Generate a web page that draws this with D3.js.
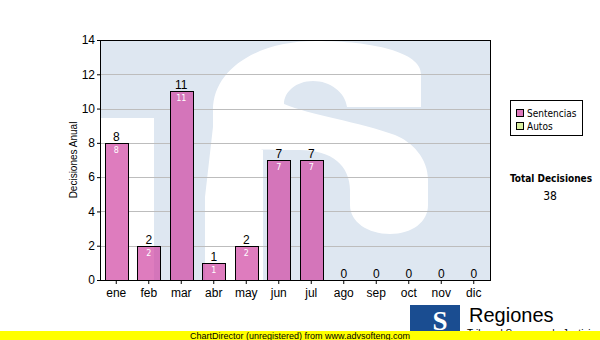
<!DOCTYPE html>
<html>
<head>
<meta charset="utf-8">
<script src="https://cdn.jsdelivr.net/npm/d3@7/dist/d3.min.js"></script>
<style>
  body { margin: 0; background: #fff; }
  svg { display: block; }
</style>
</head>
<body>
<div id="chart"></div>
<script>
// data
const months = ['ene', 'feb', 'mar', 'abr', 'may', 'jun', 'jul', 'ago', 'sep', 'oct', 'nov', 'dic'];
const sentencias = [8, 2, 11, 1, 2, 7, 7, 0, 0, 0, 0, 0];
const yTicks = [0, 2, 4, 6, 8, 10, 12, 14];
const legendLabels = ['Sentencias', 'Autos'];
const yTitle = 'Decisiones Anual';
const totalTitle = 'Total Decisiones';
const footer = 'ChartDirector (unregistered) from www.advsofteng.com';

const width = 600, height = 340;
const plot = { left: 100, right: 490, top: 40, bottom: 280 };
const legendColors = ['#dd77bb', '#d8eea0'];
const wmBlue = '#dee7f1';
const barColor = '#d045a2';

const svg = d3.select('#chart').append('svg').attr('width', width).attr('height', height);
const defs = svg.append('defs');

const x = d3.scaleBand().domain(months).range([plot.left, plot.right]);
const y = d3.scaleLinear().domain([0, 14]).range([plot.bottom, plot.top]);
const barW = Math.round(x.bandwidth() * 0.7);
const barX = m => Math.round(x(m) + (x.bandwidth() - barW) / 2) + 0.5;

// big "TS" watermark behind the plot
defs.append('clipPath').attr('id', 'plotClip')
  .append('rect')
  .attr('x', plot.left).attr('y', plot.top)
  .attr('width', plot.right - plot.left).attr('height', plot.bottom - plot.top);

const wm = defs.append('g').attr('id', 'wm').attr('clip-path', 'url(#plotClip)');
wm.append('rect')
  .attr('x', plot.left).attr('y', plot.top)
  .attr('width', plot.right - plot.left).attr('height', plot.bottom - plot.top)
  .attr('fill', wmBlue);
wm.append('rect').attr('x', 100).attr('y', 118).attr('width', 54).attr('height', 170).attr('fill', '#fff');
// top bowl, spine and the right-hand piece of the S
wm.append('path').attr('fill', '#fff').attr('d',
  'M421,107 L421,74 C421,52 372,41 316,41 C256,41 213,70 213,110 L213,140 ' +
  'C215,148 245,150 300,150 C332,150 350,166 350,190 L350,205 ' +
  'C350,222 368,234 390,234 C412,234 428,222 428,205 L428,180 ' +
  'C428,158 412,142 395,135 C360,122 310,115 284,104 ' +
  'C284,92 296,81 313,81 C330,81 345,92 347,107 Z');
// lower-left piece of the S
wm.append('path').attr('fill', '#fff').attr('d',
  'M214,118 L240,140 L263,150 L263,290 L205,290 L205,197 Z');

svg.append('use').attr('href', '#wm');

// grid
svg.append('g')
  .selectAll('line')
  .data(yTicks.filter(t => t > 0 && t < 14))
  .join('line')
  .attr('x1', plot.left).attr('x2', plot.right)
  .attr('y1', d => Math.round(y(d)) + 0.5).attr('y2', d => Math.round(y(d)) + 0.5)
  .attr('stroke', '#bdbdbd');

// bars: watermark redrawn under each bar so the grid does not show through
const data = months.map((m, i) => ({ m, v: sentencias[i] }));
const withValue = data.filter(d => d.v > 0);

defs.append('clipPath').attr('id', 'barClip')
  .selectAll('rect')
  .data(withValue)
  .join('rect')
  .attr('x', d => barX(d.m)).attr('y', d => Math.round(y(d.v)) + 0.5)
  .attr('width', barW).attr('height', d => Math.round(y(0)) - Math.round(y(d.v)));
svg.append('use').attr('href', '#wm').attr('clip-path', 'url(#barClip)');

svg.append('g')
  .selectAll('rect')
  .data(withValue)
  .join('rect')
  .attr('x', d => barX(d.m)).attr('y', d => Math.round(y(d.v)) + 0.5)
  .attr('width', barW).attr('height', d => Math.round(y(0)) - Math.round(y(d.v)))
  .attr('fill', barColor).attr('fill-opacity', 0.7)
  .attr('stroke', '#000').attr('stroke-width', 1);

// value labels
svg.append('g')
  .selectAll('text')
  .data(data)
  .join('text')
  .attr('x', d => x(d.m) + x.bandwidth() / 2)
  .attr('y', d => y(d.v) - 2)
  .attr('text-anchor', 'middle')
  .style('font', '12px "Liberation Sans", Arial, sans-serif')
  .attr('fill', '#000')
  .text(d => d.v);

svg.append('g')
  .selectAll('text')
  .data(withValue)
  .join('text')
  .attr('x', d => x(d.m) + x.bandwidth() / 2)
  .attr('y', d => y(d.v) + 10)
  .attr('text-anchor', 'middle')
  .style('font', '8px "DejaVu Sans", sans-serif')
  .attr('fill', '#fff')
  .text(d => d.v);

// axes
const yAxis = svg.append('g')
  .attr('transform', `translate(${plot.left},0)`)
  .call(d3.axisLeft(y).tickValues(yTicks).tickSize(3).tickPadding(2));
yAxis.select('.domain').remove();
yAxis.selectAll('text').style('font', '12px "Liberation Sans", Arial, sans-serif').attr('fill', '#000');

const xAxis = svg.append('g')
  .attr('transform', `translate(0,${plot.bottom})`)
  .call(d3.axisBottom(x).tickSize(4).tickPadding(4));
xAxis.select('.domain').remove();
xAxis.selectAll('text').style('font', '12px "Liberation Sans", Arial, sans-serif').attr('fill', '#000');

svg.append('rect')
  .attr('x', plot.left + 0.5).attr('y', plot.top + 0.5)
  .attr('width', plot.right - plot.left).attr('height', plot.bottom - plot.top)
  .attr('fill', 'none').attr('stroke', '#000');

svg.append('text')
  .attr('transform', `translate(77,${(plot.top + plot.bottom) / 2}) rotate(-90)`)
  .attr('text-anchor', 'middle')
  .style('font', '10px "Liberation Sans", Arial, sans-serif')
  .text(yTitle);

// legend
const legend = svg.append('g');
legend.append('rect')
  .attr('x', 510.5).attr('y', 100.5).attr('width', 72).attr('height', 35)
  .attr('fill', '#fff').attr('stroke', '#000');
const item = legend.selectAll('g.item')
  .data(legendLabels)
  .join('g')
  .attr('class', 'item')
  .attr('transform', (d, i) => `translate(516,${109 + i * 13})`);
item.append('rect')
  .attr('x', 0.5).attr('y', 0.5).attr('width', 7).attr('height', 7)
  .attr('fill', (d, i) => legendColors[i]).attr('stroke', '#000');
item.append('text')
  .attr('x', 11).attr('y', 8)
  .style('font', '10px "DejaVu Sans Condensed", "Liberation Sans", sans-serif')
  .text(d => d);

svg.append('text')
  .attr('x', 551).attr('y', 182)
  .attr('text-anchor', 'middle')
  .style('font', 'bold 10px "DejaVu Sans Condensed", "Liberation Sans", sans-serif')
  .text(totalTitle);
svg.append('text')
  .attr('x', 550).attr('y', 200)
  .attr('text-anchor', 'middle')
  .style('font', '12px "DejaVu Sans Condensed", "Liberation Sans", sans-serif')
  .text(d3.sum(sentencias));

// small logo + footer
const logo = svg.append('g');
logo.append('path').attr('fill', '#1a4d91')
  .attr('d', 'M410,305 L460,305 L460,331 L410,331 Z');
logo.append('text')
  .attr('x', 440).attr('y', 330)
  .attr('text-anchor', 'middle')
  .style('font', 'bold 27px "Liberation Serif", serif')
  .attr('fill', '#fff')
  .text('S');
logo.append('text')
  .attr('x', 469).attr('y', 322)
  .style('font', '20px "Liberation Sans", Arial, sans-serif')
  .text('Regiones');
logo.append('text')
  .attr('x', 467).attr('y', 337)
  .style('font', '10px "Liberation Sans", Arial, sans-serif')
  .text('Tribunal Supremo de Justicia');

svg.append('rect').attr('x', 0).attr('y', 331).attr('width', width).attr('height', 9).attr('fill', '#ffff00');
svg.append('text')
  .attr('x', 300).attr('y', 338.5)
  .attr('text-anchor', 'middle')
  .style('font', '9px "Liberation Sans", Arial, sans-serif')
  .text(footer);
</script>
</body>
</html>
